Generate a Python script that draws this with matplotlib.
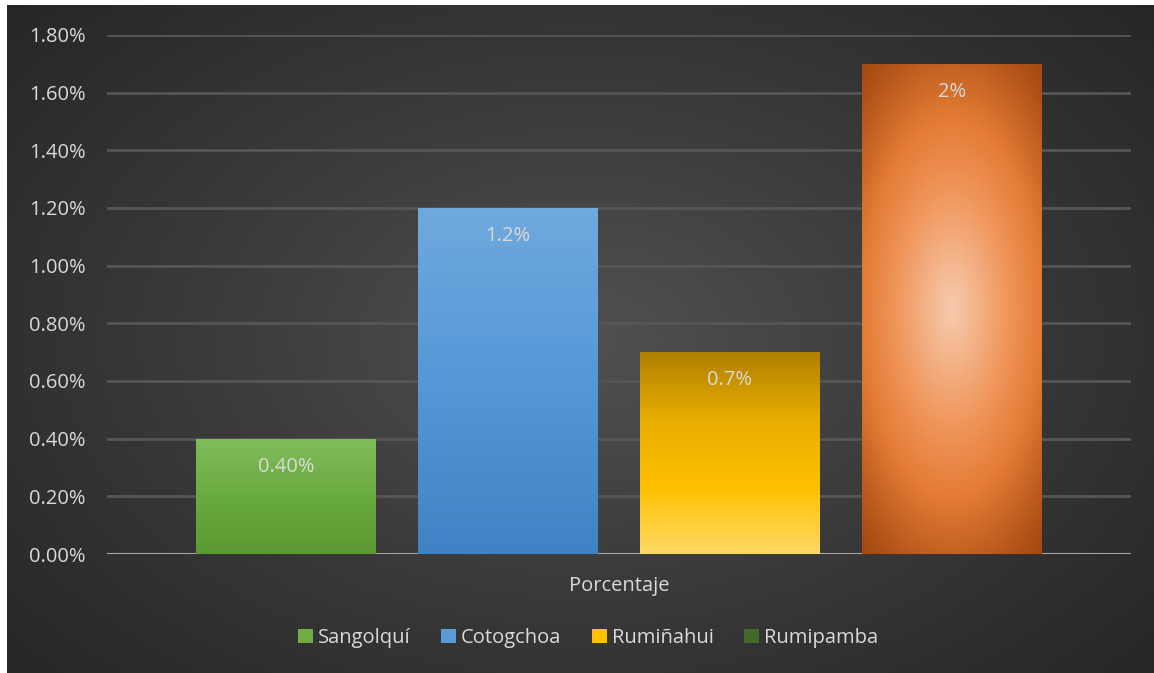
import numpy as np
import matplotlib.pyplot as plt
from matplotlib.colors import LinearSegmentedColormap
from matplotlib.patches import Rectangle, Patch

# ---- data ----
categories = ['Sangolquí', 'Cotogchoa', 'Rumiñahui', 'Rumipamba']
values = [0.40, 1.20, 0.70, 1.70]          # percent
labels = ['0.40%', '1.2%', '0.7%', '2%']
legend_colors = ['#70ad47', '#5b9bd5', '#ffc000', '#43682b']
yticks = [0.0, 0.2, 0.4, 0.6, 0.8, 1.0, 1.2, 1.4, 1.6, 1.8]

plt.rcParams['font.family'] = ['Open Sans', 'DejaVu Sans']
txt_col = '#d9d9d9'
fs = 14.5

W, H = 1154, 673
fig = plt.figure(figsize=(W / 100, H / 100), dpi=100, facecolor='white')

# fondo con degradado radial
bg = fig.add_axes([7 / W, 0, 1 - 7 / W, (H - 5) / H])
bg.set_axis_off()
yy, xx = np.mgrid[-1:1:300j, -1:1:500j]
r = np.sqrt(xx ** 2 + (yy * 0.9) ** 2)
bg_cmap = LinearSegmentedColormap.from_list('bg', ['#515151', '#3a3a3a', '#262626'])
bg.imshow(r, cmap=bg_cmap, aspect='auto', extent=[0, 1, 0, 1], vmin=0, vmax=1.35)
bg.set_xlim(0, 1)
bg.set_ylim(0, 1)

# area del grafico en pixeles: x 107..1131, y 35 (1.8) .. 554 (0)
x0, x1 = 107, 1131
ytop, ybot = 35, 554
ax = fig.add_axes([x0 / W, (H - ybot) / H, (x1 - x0) / W, (ybot - ytop) / H])
ax.patch.set_alpha(0)
for s in ax.spines.values():
    s.set_visible(False)
ax.set_yticks(yticks)
ax.set_yticklabels([f'{v:.2f}%' for v in yticks])
ax.tick_params(axis='y', length=0, colors=txt_col, labelsize=fs, pad=15.5)
ax.set_xticks([])
ax.grid(axis='y', color='#565656', linewidth=2)
ax.set_axisbelow(True)
ax.axhline(0, color='#a6a6a6', linewidth=1.5, zorder=1)

bar_w = 180 / 1024
step = 222 / 1024
centers = [(i - 1.5) * step for i in range(len(values))]

grads = [
    LinearSegmentedColormap.from_list('g', ['#5b9a32', '#6aab40', '#80bd5a']),
    LinearSegmentedColormap.from_list('b', ['#3f83c4', '#5498d8', '#70a9de']),
    LinearSegmentedColormap.from_list('y', ['#ffd966', '#ffc000', '#e8ad00', '#b08000']),
]

for i, (c, v) in enumerate(zip(centers, values)):
    left = c - bar_w / 2
    if i < 3:
        img = np.linspace(0, 1, 200).reshape(-1, 1)
        im = ax.imshow(img, cmap=grads[i], aspect='auto', origin='lower',
                       extent=[left, left + bar_w, 0, v], zorder=2)
    else:
        # degradado radial del ultimo bar
        gy, gx = np.mgrid[0:1:300j, 0:1:120j]
        d = np.sqrt(((gx - 0.5) / 0.8) ** 2 + ((gy - 0.5) / 0.62) ** 2)
        cm = LinearSegmentedColormap.from_list(
            'o', [(0, '#f7cbae'), (0.38, '#f0975d'), (0.62, '#e47c36'), (0.86, '#ba5a1d'), (1, '#a44a12')])
        im = ax.imshow(np.clip(d, 0, 1), cmap=cm, aspect='auto', origin='lower',
                       extent=[left, left + bar_w, 0, v], zorder=2, vmin=0, vmax=1)
    rect = Rectangle((left, 0), bar_w, v, transform=ax.transData, facecolor='none', edgecolor='none')
    ax.add_patch(rect)
    im.set_clip_path(rect)
    ax.text(c, v - 0.098, labels[i], ha='center', va='center', color=txt_col, fontsize=fs, zorder=3)

ax.set_xlim(-0.5, 0.5)
ax.set_ylim(0, 1.8)

fig.text(619 / W, 1 - 586 / H, 'Porcentaje', ha='center', va='center', color=txt_col, fontsize=fs)

handles = [Patch(facecolor=col, edgecolor='none') for col in legend_colors]
leg = fig.legend(handles, categories, loc='center', bbox_to_anchor=(588 / W, 1 - 638 / H),
                 ncol=4, frameon=False, fontsize=fs, handlelength=0.75, handleheight=0.75,
                 handletextpad=0.25, columnspacing=1.5, labelcolor=txt_col)

fig.savefig('out.png', dpi=100, facecolor='white')
